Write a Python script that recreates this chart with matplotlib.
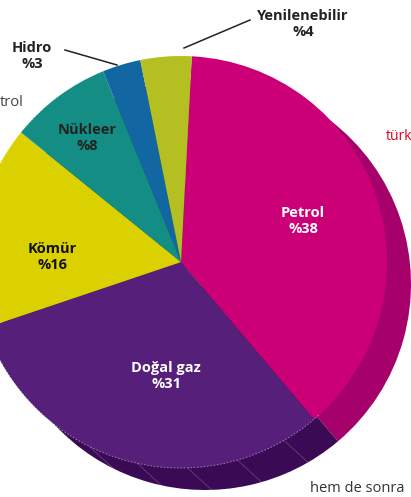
import numpy as np
import matplotlib
matplotlib.use("Agg")
import matplotlib.pyplot as plt

# veri
kaynaklar = ["Petrol", "Doğal gaz", "Kömür", "Nükleer", "Hidro", "Yenilenebilir"]
oranlar = [38, 31, 16, 8, 3, 4]

renkler = ["#CB0077", "#56207A", "#DCD100", "#148E85", "#1266A2", "#B4C021"]
koyu_renkler = ["#A6006B", "#3B0A55", "#9C9400", "#0C5E58", "#0B4470", "#7F8715"]
yazi_renk = ["white", "white", "#111111", "#222222", "#222222", "#222222"]

W, H = 411, 497
cx, cy = 181, H - 262      # pasta merkezi (piksel)
R = 206
dx, dy = 24, -22           # arka kat kaydirma
start = 87                 # derece, saat yonunde

fig = plt.figure(figsize=(W / 100, H / 100), dpi=100)
ax = fig.add_axes([0, 0, 1, 1])

# arka kat (golge / derinlik)
ax.pie(oranlar, colors=koyu_renkler, startangle=start, counterclock=False,
       center=(cx + dx, cy + dy), radius=R, frame=True,
       wedgeprops=dict(linewidth=0))

# derinlik cizgileri
for a in np.linspace(-60, -215, 12):
    t = np.radians(a)
    x0, y0 = cx + R * np.cos(t), cy + R * np.sin(t)
    ax.plot([x0, x0 + dx], [y0, y0 + dy], color="#ffffff", alpha=0.22,
            lw=0.6, zorder=1.5)

# on yuz
wedges, _ = ax.pie(oranlar, colors=renkler, startangle=start,
                   counterclock=False, center=(cx, cy), radius=R, frame=True,
                   wedgeprops=dict(linewidth=0))
for w in wedges:
    w.set_zorder(2)

# on yuz kenarinda kesikli cizgi
t = np.radians(np.linspace(-48, -228, 200))
ax.plot(cx + R * np.cos(t), cy + R * np.sin(t), color="#ffffff", alpha=0.5,
        lw=0.6, ls=(0, (2, 2)), zorder=3)

ax.set_xlim(0, W)
ax.set_ylim(0, H)
ax.set_aspect("equal")
ax.axis("off")

# etiketler
etiket_yer = [(303, 221), (166, 376), (52, 257), (87, 138), (32, 56), (303, 24)]
for k, o, c, (px, py) in zip(kaynaklar, oranlar, yazi_renk, etiket_yer):
    ax.text(px, H - py, f"{k}\n%{o}", ha="center", va="center", color=c,
            fontsize=10.5, fontweight="bold", family="Open Sans",
            linespacing=1.2, zorder=5)

# kilavuz cizgiler
ax.plot([65, 117], [H - 50, H - 65], color="#222222", lw=1.1, zorder=5)
ax.plot([250, 184], [H - 20, H - 48], color="#222222", lw=1.1, zorder=5)

# kenardaki metin parcalari
ax.text(0, H - 102, "trol", ha="left", va="center", color="#444444",
        fontsize=10.5, family="Open Sans")
ax.text(386, H - 137, "türk", ha="left", va="center", color="#E3001B",
        fontsize=10, family="Open Sans")
ax.text(310, H - 489, "hem de sonra", ha="left", va="center",
        color="#333333", fontsize=10.5, family="Open Sans")

fig.savefig("out.png", dpi=100)
